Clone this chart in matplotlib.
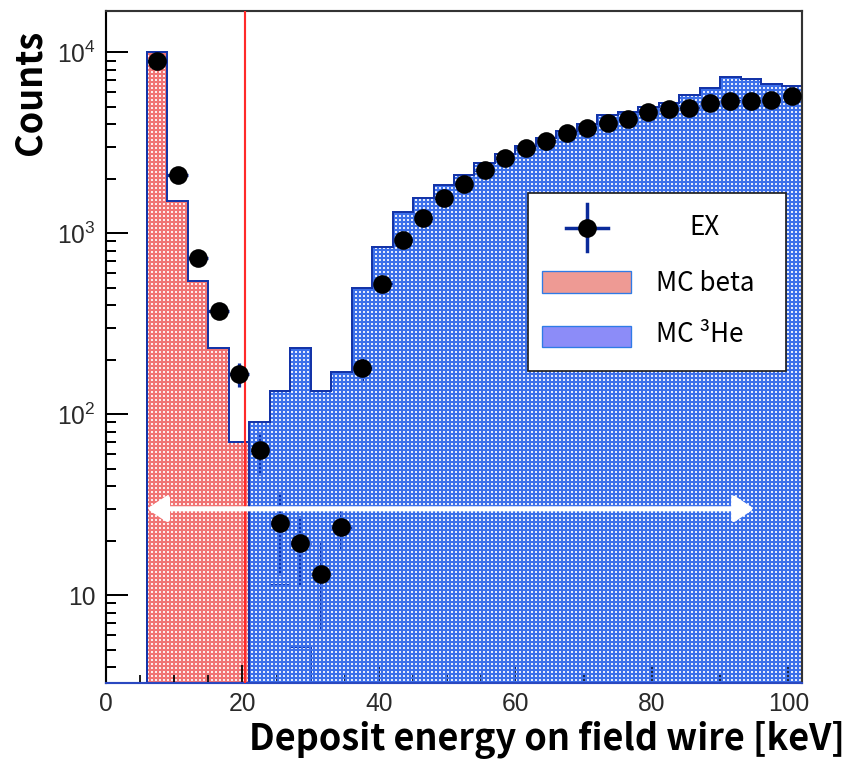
import numpy as np
import matplotlib
matplotlib.use("Agg")
import matplotlib.pyplot as plt
from matplotlib.ticker import FixedLocator, FuncFormatter, MultipleLocator
from matplotlib.patches import Rectangle

# ---------------- data ----------------
bin_edges = np.arange(0, 105, 3)          # 0, 3, ..., 102 keV (34 bins)

# MC beta counts per bin
mc_beta = [0, 0, 10070, 1513, 541, 232, 70.6, 28, 11.4, 5.2,
           0, 0, 0, 0, 0, 0, 0, 0, 0, 0,
           0, 0, 0, 0, 0, 0, 0, 0, 0, 0,
           0, 0, 0, 0]

# MC 3He counts per bin
mc_he3 = [0, 0, 0, 0, 0, 0, 0, 90, 135, 232,
          135, 172, 497, 843, 1310, 1560, 1850, 2100, 2450, 2750,
          3050, 3350, 3650, 4000, 4510, 4700, 5000, 5270, 5810, 6320,
          7280, 7100, 6680, 6520]

# experimental data (bin centres from 7.5 keV)
ex_energy = [7.5, 10.5, 13.5, 16.5, 19.5, 22.5, 25.5, 28.5, 31.5, 34.5,
             37.5, 40.5, 43.5, 46.5, 49.5, 52.5, 55.5, 58.5, 61.5, 64.5,
             67.5, 70.5, 73.5, 76.5, 79.5, 82.5, 85.5, 88.5, 91.5, 94.5,
             97.5, 100.5]
ex_counts = [8990, 2100, 728, 372, 167, 63, 25, 19.4, 13.1, 23.9,
             180, 525, 918, 1215, 1566, 1870, 2240, 2610, 2960, 3230,
             3580, 3820, 4050, 4270, 4700, 4840, 4900, 5270, 5400, 5400,
             5450, 5740]
ex_err = [190, 92, 54, 38, 26, 17, 12, 8, 6.6, 6,
          27, 46, 60, 70, 79, 86, 95, 102, 109, 114,
          120, 124, 127, 131, 137, 139, 140, 145, 147, 147,
          148, 152]
ex_xerr = 1.5

cut_energy = 20.4
range_lo, range_hi, range_y = 6, 95, 30

x_ticks = [0, 20, 40, 60, 80, 100]
y_ticks = [10, 100, 1000, 10000]
y_tick_labels = {10: "10", 100: r"$\mathregular{10^{2}}$",
                 1000: r"$\mathregular{10^{3}}$", 10000: r"$\mathregular{10^{4}}$"}

# ---------------- style ----------------
DPI = 96
plt.rcParams["hatch.linewidth"] = 1.6
plt.rcParams["mathtext.fontset"] = "custom"
plt.rcParams["mathtext.rm"] = "Liberation Sans"
plt.rcParams["font.family"] = ["Liberation Sans", "DejaVu Sans"]

BLUE_PAT = "#3d70ea"
RED_PAT = "#f07474"
OUTLINE = "#1434a8"
ERRC = "#0a2a9a"

fig = plt.figure(figsize=(852 / DPI, 763 / DPI), dpi=DPI)
ax = fig.add_axes([106 / 852, 1 - 683 / 763, 696 / 852, 672 / 763])
ax.set_yscale("log")
ax.set_xlim(0, 102)
ax.set_ylim(3.27, 16900)
# tick marks sit underneath the patterned fill so they show through it
ax.xaxis.set_zorder(1.75)
ax.yaxis.set_zorder(1.75)

floor = 0.1
beta_v = np.where(np.array(mc_beta) > 0, mc_beta, floor)
he3_v = np.where(np.array(mc_he3) > 0, mc_he3, floor)

# MC beta: patterned fill + outline
ax.stairs(beta_v, bin_edges, baseline=floor, fill=True, facecolor="none",
          edgecolor=RED_PAT, linewidth=0, hatch="++++", zorder=1.5)
ax.stairs(beta_v, bin_edges, baseline=floor, fill=False, color=OUTLINE,
          linewidth=1.5, zorder=1.6)

# MC 3He: white backing, then lines that show through the pattern, then pattern
ax.stairs(he3_v, bin_edges, baseline=floor, fill=True, facecolor="white",
          linewidth=0, zorder=1.7)
ax.stairs(beta_v, bin_edges, baseline=floor, fill=False, color=OUTLINE,
          linewidth=1.5, zorder=1.8)
ax.errorbar(ex_energy, ex_counts, yerr=ex_err, xerr=ex_xerr, fmt="none",
            ecolor=ERRC, elinewidth=2.4, capsize=0, zorder=1.8)
ax.stairs(he3_v, bin_edges, baseline=floor, fill=True, facecolor="none",
          edgecolor=BLUE_PAT, linewidth=0, hatch="++++", zorder=2.0)
ax.stairs(he3_v, bin_edges, baseline=floor, fill=False, color=OUTLINE,
          linewidth=1.5, zorder=2.1)

# threshold line
ax.axvline(cut_energy, color="#ff2a2a", linewidth=1.6, zorder=3)

# data markers
ax.plot(ex_energy, ex_counts, "o", color="black", markersize=14,
        markeredgewidth=0, zorder=4)

# fit range arrow
ax.annotate("", xy=(range_hi, range_y), xytext=(range_lo, range_y),
            arrowprops=dict(arrowstyle="<|-|>,head_length=0.6,head_width=0.4",
                            mutation_scale=20, color="white", lw=3.8,
                            shrinkA=0, shrinkB=0),
            zorder=5)

# ---------------- axes ----------------
for side in ("top", "right"):
    ax.spines[side].set_color("#333333")
    ax.spines[side].set_linewidth(1.6)
ax.spines["left"].set_color("black")
ax.spines["left"].set_linewidth(1.6)
ax.spines["bottom"].set_color("#2a48c0")
ax.spines["bottom"].set_linewidth(1.6)

ax.xaxis.set_major_locator(FixedLocator(x_ticks))
ax.xaxis.set_minor_locator(MultipleLocator(5))
ax.yaxis.set_major_locator(FixedLocator(y_ticks))
minor_y = [m * 10 ** k for k in range(0, 5) for m in range(2, 10)]
ax.yaxis.set_minor_locator(FixedLocator(minor_y))
ax.yaxis.set_major_formatter(FuncFormatter(lambda v, p: y_tick_labels.get(int(round(v)), "")))
ax.yaxis.set_minor_formatter(FuncFormatter(lambda v, p: ""))

ax.tick_params(axis="x", which="major", direction="in", length=13.5, width=1.3,
               pad=7, labelsize=18.5, labelcolor="#2a2a2a", top=False)
ax.tick_params(axis="x", which="minor", direction="in", length=6, width=1.3, top=False)
ax.tick_params(axis="y", which="major", direction="in", length=16.5, width=1.5,
               pad=8, labelsize=18.5, labelcolor="#2a2a2a", right=False)
ax.tick_params(axis="y", which="minor", direction="in", length=7.5, width=1.5, right=False)

jp = ["Noto Sans CJK JP", "DejaVu Sans"]
fig.text(845 / 852, 1 - 740 / 763, "Deposit energy on field wire [keV]",
         ha="right", va="center", fontsize=27, fontweight="bold", family=jp)
fig.text(30 / 852, 1 - 92 / 763, "Counts", rotation=90, ha="center",
         va="center", fontsize=27, fontweight="bold", family=jp)

# ---------------- legend ----------------
T = ax.transAxes
ax.add_patch(Rectangle((0.6068, 0.4643), 0.3698, 0.2653, transform=T,
                       facecolor="white", edgecolor="#222222", linewidth=1.3,
                       zorder=6))
mx, my = 0.6906, 0.6775
ax.plot([mx - 0.0302, mx + 0.0302], [my, my], transform=T, color=ERRC,
        lw=2.6, zorder=7, clip_on=False)
ax.plot([mx, mx], [my - 0.035, my + 0.035], transform=T, color=ERRC,
        lw=2.6, zorder=7, clip_on=False)
ax.plot([mx], [my], "o", transform=T, color="black", markersize=14,
        markeredgewidth=0, zorder=8, clip_on=False)
ax.text(0.8376, 0.6771, "EX", transform=T, ha="left", va="center",
        fontsize=19.5, family=jp, zorder=8)
ax.add_patch(Rectangle((0.626, 0.5808), 0.1279, 0.0323, transform=T,
                       facecolor="#ee9a94", edgecolor="#2f7be6", linewidth=1.0,
                       zorder=7))
ax.text(0.7902, 0.5948, "MC beta", transform=T, ha="left", va="center",
        fontsize=19.5, family=jp, zorder=8)
ax.add_patch(Rectangle((0.626, 0.4995), 0.1279, 0.0322, transform=T,
                       facecolor="#8c8cf8", edgecolor="#2f7be6", linewidth=1.0,
                       zorder=7))
ax.text(0.7902, 0.5179, "MC \u00b3He", transform=T, ha="left", va="center",
        fontsize=19.5, family=jp, zorder=8)

fig.savefig("out.png", dpi=DPI)
